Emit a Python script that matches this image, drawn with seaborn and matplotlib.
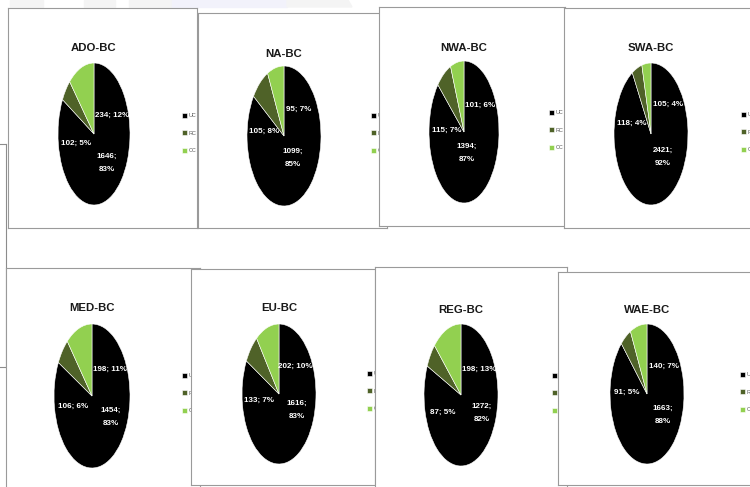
import matplotlib
matplotlib.use("Agg")
import matplotlib.pyplot as plt
from matplotlib import font_manager as fm
from matplotlib.patches import Rectangle, Polygon
import seaborn as sns

# Breakdown of UC / RC / CC counts for each regional bycatch group
regions = ["ADO-BC", "NA-BC", "NWA-BC", "SWA-BC", "MED-BC", "EU-BC", "REG-BC", "WAE-BC"]
categories = ["UC", "RC", "CC"]
uc_counts = [1646, 1099, 1394, 2421, 1454, 1616, 1272, 1663]
rc_counts = [102, 105, 115, 118, 106, 133, 87, 91]
cc_counts = [234, 95, 101, 105, 198, 202, 198, 140]
uc_pct = [83, 85, 87, 92, 83, 83, 82, 88]
rc_pct = [5, 8, 7, 4, 6, 7, 5, 5]
cc_pct = [12, 7, 6, 4, 11, 10, 13, 7]

sns.set_theme(style="white")
palette = sns.color_palette(["#000000", "#4f6228", "#92d050"])
plt.rcParams["font.family"] = ["Liberation Sans", "DejaVu Sans"]

W, H = 750, 487
fig = plt.figure(figsize=(W / 100, H / 100), dpi=100)
fig.patch.set_facecolor("white")

LABEL_SIZE = 5.8
TITLE_SIZE = 8.2
LEGEND_SIZE = 4.0
legend_fp = fm.FontProperties(family=["Liberation Sans", "DejaVu Sans"], size=LEGEND_SIZE)


def frac(x0, y0, x1, y1):
    return [x0 / W, 1 - y1 / H, (x1 - x0) / W, (y1 - y0) / H]


# faint slide background along the top edge
for xs, col in [((10, 43), "#f4f4f4"), ((84, 115), "#f4f4f4"), ((129, 172), "#f4f4f4"),
                ((172, 287), "#f2f2fb")]:
    fig.patches.append(Rectangle((xs[0] / W, 1 - 7 / H), (xs[1] - xs[0]) / W, 7 / H,
                                 transform=fig.transFigure, color=col, zorder=-5))
fig.patches.append(Polygon([(287 / W, 1), (348 / W, 1), (352 / W, 1 - 7 / H), (287 / W, 1 - 7 / H)],
                           closed=True, transform=fig.transFigure, color="#f4f4f4", zorder=-5))

# partially hidden frame at the far left
bg = fig.add_axes(frac(-20, 144, 6, 367))
bg.set_xticks([]); bg.set_yticks([])
for s in bg.spines.values():
    s.set_color("#8c8c8c"); s.set_linewidth(0.8)

# panel frames (pixels), pie centre/radii, legend anchor, label anchors (in pie radii):
# UC label centred, RC label centred, CC label left-aligned
layout = [
    dict(box=(8, 8, 197, 228), c=(94, 134), r=(36, 71), title_y=48, leg=(183, 117),
         lab=[(0.36, -0.41), (-0.50, -0.13), (0.04, 0.26)]),
    dict(box=(198, 13, 387, 228), c=(284, 136), r=(37, 70), title_y=54, leg=(372, 117),
         lab=[(0.24, -0.31), (-0.55, 0.06), (0.05, 0.38)]),
    dict(box=(379, 7, 565, 226), c=(464, 132), r=(35, 71), title_y=48, leg=(550, 114),
         lab=[(0.09, -0.30), (-0.50, 0.03), (0.04, 0.38)]),
    dict(box=(564, 8, 760, 228), c=(651, 134), r=(37, 71), title_y=48, leg=(742, 116),
         lab=[(0.32, -0.32), (-0.52, 0.15), (0.06, 0.42)]),
    dict(box=(6, 268, 200, 500), c=(92, 396), r=(38, 72), title_y=308, leg=(183, 377),
         lab=[(0.50, -0.29), (-0.50, -0.15), (0.02, 0.37)]),
    dict(box=(191, 269, 375, 485), c=(279, 394), r=(37, 70), title_y=308, leg=(368, 375),
         lab=[(0.47, -0.23), (-0.55, -0.09), (-0.02, 0.39)]),
    dict(box=(375, 267, 567, 500), c=(461, 395), r=(37, 71), title_y=310, leg=(553, 377),
         lab=[(0.55, -0.25), (-0.49, -0.25), (0.02, 0.36)]),
    dict(box=(558, 272, 760, 485), c=(647, 394), r=(37, 70), title_y=310, leg=(741, 376),
         lab=[(0.43, -0.30), (-0.55, 0.03), (0.06, 0.39)]),
]

for i, name in enumerate(regions):
    L = layout[i]
    counts = [uc_counts[i], rc_counts[i], cc_counts[i]]
    pcts = [uc_pct[i], rc_pct[i], cc_pct[i]]

    frame = fig.add_axes(frac(*L["box"]))
    frame.set_facecolor("white")
    frame.set_xticks([]); frame.set_yticks([])
    for s in frame.spines.values():
        s.set_color("#9a9a9a"); s.set_linewidth(0.8)

    cx, cy = L["c"]
    rx, ry = L["r"]
    frame.text(cx / W, 1 - L["title_y"] / H, name, transform=fig.transFigure,
               fontsize=TITLE_SIZE, fontweight="bold",
               ha="center", va="center", color="#1a1a1a")

    pie_ax = fig.add_axes(frac(cx - rx, cy - ry, cx + rx, cy + ry))
    wedges, _ = pie_ax.pie(counts, colors=palette, startangle=90, counterclock=False,
                           radius=1, wedgeprops=dict(edgecolor="white", linewidth=0.4))
    pie_ax.set_aspect("auto")
    pie_ax.set_xlim(-1, 1)
    pie_ax.set_ylim(-1, 1)

    for k in range(3):
        lx, ly = L["lab"][k]
        sep = ";\n" if k == 0 else "; "
        pie_ax.text(lx, ly, f"{counts[k]}{sep}{pcts[k]}%",
                    ha="left" if k == 2 else "center", va="center",
                    color="white", fontsize=LABEL_SIZE, fontweight="bold",
                    linespacing=2.2)

    lx, ly = L["leg"]
    leg = pie_ax.legend(wedges, categories, loc="upper left",
                        bbox_to_anchor=(lx / W - 0.001, 1 - (ly - 4) / H),
                        bbox_transform=fig.transFigure, frameon=False, prop=legend_fp,
                        handlelength=0.9, handleheight=0.9, handletextpad=0.3,
                        labelspacing=2.2, borderpad=0, borderaxespad=0)
    for t in leg.get_texts():
        t.set_color("#595959")

fig.savefig("out.png", dpi=100, facecolor="white")
